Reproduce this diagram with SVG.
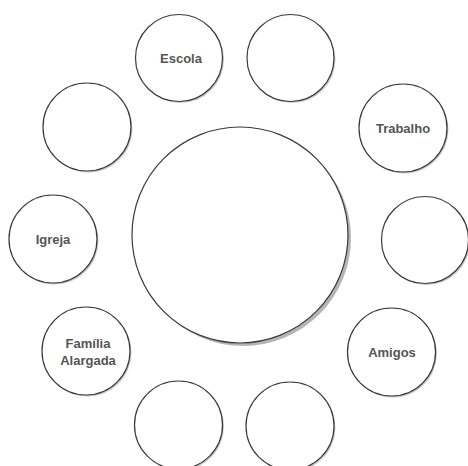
<svg xmlns="http://www.w3.org/2000/svg" width="468" height="466" viewBox="0 0 468 466">
<style>
.sh{fill:#b5b5b5}
.shs{fill:#c8c8c8}
.c{fill:#fff;stroke:#3a3a3a;stroke-width:1.2}
.t{font-family:"Liberation Sans",Arial,sans-serif;font-weight:bold;font-size:13px;fill:#555;text-anchor:middle}
</style>
<rect width="468" height="466" fill="#fff"/>
<g id="centro">
<circle class="sh" cx="243" cy="238" r="108"/>
<circle class="c" cx="240" cy="235" r="108"/>
</g>
<g id="escola">
<circle class="shs" cx="180.5" cy="59.5" r="43.5"/>
<circle class="c" cx="179" cy="58" r="43.5"/>
<text class="t" x="181" y="63">Escola</text>
</g>
<g id="vazio-topo">
<circle class="shs" cx="292" cy="59.5" r="43.5"/>
<circle class="c" cx="290.5" cy="58" r="43.5"/>
</g>
<g id="vazio-esquerda">
<circle class="shs" cx="88.5" cy="128.5" r="44"/>
<circle class="c" cx="87" cy="127" r="44"/>
</g>
<g id="trabalho">
<circle class="shs" cx="404.5" cy="129.5" r="44"/>
<circle class="c" cx="403" cy="128" r="44"/>
<text class="t" x="403" y="132.5">Trabalho</text>
</g>
<g id="igreja">
<circle class="shs" cx="54.5" cy="240.5" r="44"/>
<circle class="c" cx="53" cy="239" r="44"/>
<text class="t" x="53" y="244">Igreja</text>
</g>
<g id="vazio-direita">
<circle class="shs" cx="426.5" cy="241.5" r="43.5"/>
<circle class="c" cx="425" cy="240" r="43.5"/>
</g>
<g id="familia-alargada">
<circle class="shs" cx="87.5" cy="352.5" r="44"/>
<circle class="c" cx="86" cy="351" r="44"/>
<text class="t" x="88" y="348">Família</text>
<text class="t" x="88" y="365">Alargada</text>
</g>
<g id="amigos">
<circle class="shs" cx="393" cy="353.5" r="44"/>
<circle class="c" cx="391.5" cy="352" r="44"/>
<text class="t" x="392" y="357">Amigos</text>
</g>
<g id="vazio-baixo-esquerda">
<circle class="shs" cx="180" cy="426.5" r="44"/>
<circle class="c" cx="178.5" cy="425" r="44"/>
</g>
<g id="vazio-baixo-direita">
<circle class="shs" cx="291.5" cy="427.5" r="44"/>
<circle class="c" cx="290" cy="426" r="44"/>
</g>
</svg>
